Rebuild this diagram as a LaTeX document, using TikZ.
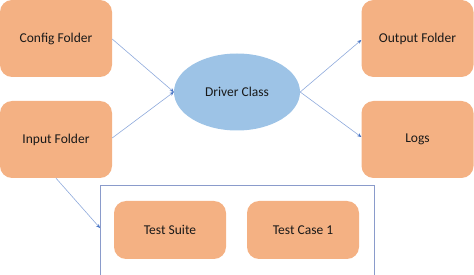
\documentclass[tikz,border=0pt]{standalone}
\usepackage{fontspec}
\setmainfont{Carlito}
\usetikzlibrary{arrows.meta, shapes.geometric}
\definecolor{boxOrange}{HTML}{F4B183}
\definecolor{ovalBlue}{HTML}{9DC3E6}
\definecolor{lineBlue}{HTML}{8FAADC}
\definecolor{tipBlue}{HTML}{4472C4}
\definecolor{frameBlue}{HTML}{8A9BCB}

\begin{document}
\begin{tikzpicture}[x=1pt, y=-1pt,
   folder/.style={rectangle, rounded corners=12pt, fill=boxOrange,
                  minimum width=112pt, minimum height=77pt,
                  font=\fontsize{13.5}{16}\selectfont, text=black!90},
   testbox/.style={folder, minimum height=58pt},
   link/.style={draw=lineBlue, line width=0.6pt,
                -{Stealth[length=4pt, width=3.5pt, color=tipBlue]}}]

\useasboundingbox (0,0) rectangle (474,275);
\clip (0,0) rectangle (474,275);

% left side
\node[folder] (config) at (56,38.5) {Config Folder};
\node[folder] (input)  at (56,139.5) {Input Folder};

% driver in the middle
\node[ellipse, fill=ovalBlue, minimum width=126pt, minimum height=77pt,
      inner sep=0pt, font=\fontsize{13.5}{16}\selectfont, text=black!90]
     (driver) at (237,92) {Driver Class};

% right side
\node[folder] (output) at (417.5,38.5) {Output Folder};
\node[folder] (logs)   at (417.5,139.5) {Logs};

% test container
\draw[frameBlue, line width=0.8pt] (100,285) |- (374,185) -- (374,285);
\coordinate (frameIn) at (100,228);
\node[testbox] (suite) at (170,230) {Test Suite};
\node[testbox] (case)  at (303,230) {Test Case 1};

\draw[link] (config.east |- 0,39) -- (driver.west);
\draw[link] (input.east |- 0,138) -- (driver.west);
\draw[link] (driver.east) -- (output.west |- 0,40);
\draw[link] (driver.east) -- (logs.west |- 0,137);
\draw[link] (input.south) -- (frameIn);
\end{tikzpicture}
\end{document}
